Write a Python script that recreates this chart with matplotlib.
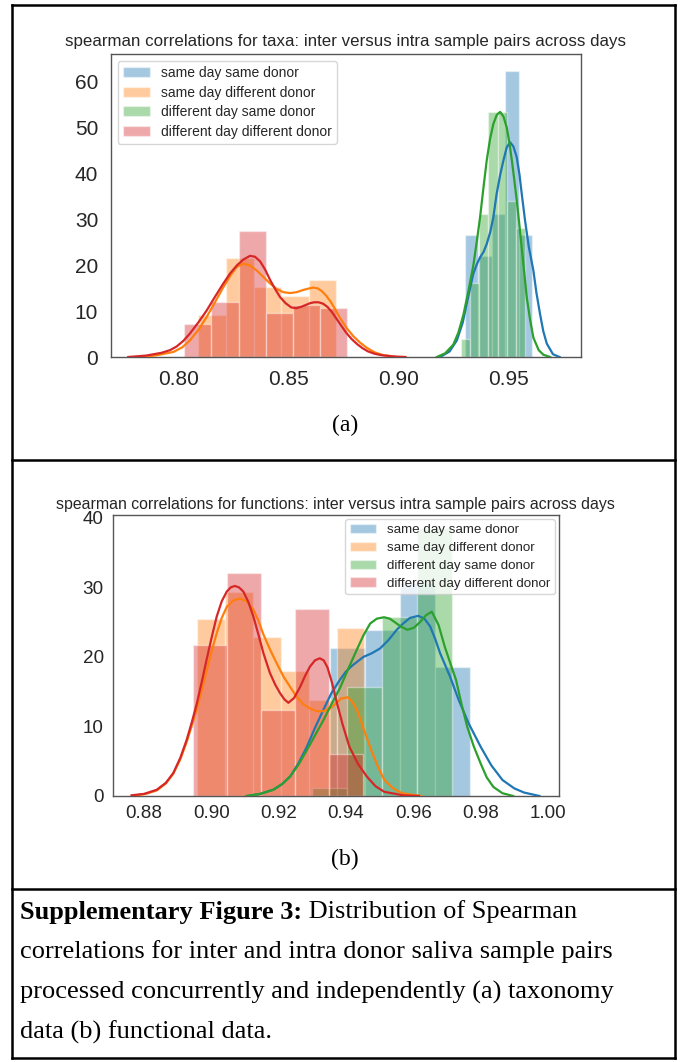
import numpy as np
import matplotlib
matplotlib.use("Agg")
import matplotlib.pyplot as plt
from matplotlib.lines import Line2D

# ---------------- data ----------------
series_labels = ["same day same donor", "same day different donor",
                 "different day same donor", "different day different donor"]

# Panel (a): taxa
a_title = "spearman correlations for taxa: inter versus intra sample pairs across days"
a_blue_edges = [0.9300, 0.9361, 0.9422, 0.9483, 0.9544, 0.9605]
a_blue_heights = [26.5, 22.0, 31.0, 62.3, 26.5]
a_orange_edges = [0.8089, 0.8214, 0.8339, 0.8464, 0.8589, 0.8714]
a_orange_heights = [9.2, 21.6, 15.3, 13.3, 16.7]
a_green_edges = [0.9280, 0.9322, 0.9364, 0.9406, 0.9448, 0.9490, 0.9532, 0.9574]
a_green_heights = [4.0, 16.0, 31.0, 53.3, 53.3, 34.0, 28.0]
a_red_edges = [0.8025, 0.8148, 0.8271, 0.8394, 0.8517, 0.8640, 0.8763]
a_red_heights = [7.2, 12.0, 27.4, 9.5, 11.3, 10.6]

a_blue_kde_x = [0.9187, 0.9230, 0.9263, 0.9290, 0.9308, 0.9338, 0.9355, 0.9369, 0.9385,
                0.9399, 0.9415, 0.9429, 0.9444, 0.9460, 0.9475, 0.9490, 0.9505, 0.9520,
                0.9535, 0.9548, 0.9558, 0.9573, 0.9590, 0.9611, 0.9625, 0.9641, 0.9656,
                0.9672, 0.9700, 0.9730]
a_blue_kde_y = [0.0, 1.2, 3.6, 7.5, 11.6, 18.1, 20.3, 21.7, 22.9,
                24.6, 27.2, 30.4, 35.5, 39.6, 42.8, 45.6, 46.7, 45.8,
                43.5, 39.6, 35.5, 29.7, 24.0, 18.8, 13.9, 9.4, 5.6,
                2.9, 0.6, 0.0]
a_orange_kde_x = [0.7810, 0.7890, 0.7975, 0.8015, 0.8050, 0.8090, 0.8126, 0.8165, 0.8202,
                  0.8235, 0.8263, 0.8293, 0.8323, 0.8354, 0.8384, 0.8414, 0.8444, 0.8475,
                  0.8505, 0.8535, 0.8566, 0.8590, 0.8611, 0.8632, 0.8650, 0.8670, 0.8690,
                  0.8711, 0.8732, 0.8762, 0.8793, 0.8824, 0.8854, 0.8890, 0.8929, 0.8990]
a_orange_kde_y = [0.0, 0.3, 1.1, 2.1, 3.6, 6.0, 8.7, 12.0, 15.2,
                  17.8, 19.6, 20.3, 19.9, 18.8, 17.4, 16.0, 14.8, 14.1,
                  13.9, 14.1, 14.6, 14.9, 15.1, 14.9, 14.3, 13.3, 12.0,
                  10.3, 8.5, 6.3, 4.5, 3.1, 2.0, 1.0, 0.4, 0.0]
a_green_kde_x = [0.9172, 0.9210, 0.9247, 0.9270, 0.9293, 0.9315, 0.9338, 0.9354, 0.9369,
                 0.9384, 0.9399, 0.9414, 0.9429, 0.9445, 0.9460, 0.9475, 0.9490, 0.9502,
                 0.9513, 0.9524, 0.9535, 0.9547, 0.9558, 0.9570, 0.9581, 0.9596, 0.9611,
                 0.9635, 0.9656, 0.9687]
a_green_kde_y = [0.0, 0.8, 2.7, 5.3, 9.2, 14.2, 19.9, 25.2, 30.5,
                 36.8, 42.8, 47.4, 50.7, 52.7, 53.3, 52.3, 49.9, 46.6,
                 42.8, 38.6, 34.2, 28.9, 23.7, 18.1, 12.9, 8.1, 4.2,
                 1.5, 0.5, 0.0]
a_red_kde_x = [0.7770, 0.7850, 0.7920, 0.7960, 0.7990, 0.8020, 0.8050, 0.8088, 0.8126,
               0.8164, 0.8202, 0.8233, 0.8263, 0.8293, 0.8323, 0.8346, 0.8369, 0.8392,
               0.8414, 0.8437, 0.8460, 0.8485, 0.8510, 0.8533, 0.8555, 0.8576, 0.8596,
               0.8615, 0.8635, 0.8655, 0.8675, 0.8695, 0.8715, 0.8738, 0.8760, 0.8785,
               0.8810, 0.8835, 0.8860, 0.8890, 0.8920, 0.8980, 0.9030]
a_red_kde_y = [0.0, 0.3, 0.9, 1.5, 2.3, 3.5, 5.1, 7.5, 10.1,
               13.1, 16.0, 18.2, 19.9, 21.2, 22.0, 21.8, 20.8, 19.0,
               16.8, 14.8, 13.0, 11.7, 10.8, 10.6, 10.9, 11.3, 11.7,
               11.9, 11.9, 11.6, 10.9, 9.8, 8.4, 6.8, 5.3, 3.9,
               2.8, 1.9, 1.2, 0.7, 0.4, 0.1, 0.0]
a_xticks = [0.80, 0.85, 0.90, 0.95]
a_xticklabels = ["0.80", "0.85", "0.90", "0.95"]
a_yticks = [0, 10, 20, 30, 40, 50, 60]

# Panel (b): functions
b_title = "spearman correlations for functions: inter versus intra sample pairs across days"
b_blue_edges = [0.9352, 0.9456, 0.9560, 0.9664, 0.9768]
b_blue_heights = [21.3, 23.9, 30.6, 18.6]
b_orange_edges = [0.8957, 0.9040, 0.9123, 0.9206, 0.9289, 0.9372, 0.9455]
b_orange_heights = [25.4, 29.3, 22.9, 18.0, 13.8, 24.2]
b_green_edges = [0.9298, 0.9402, 0.9506, 0.9610, 0.9714]
b_green_heights = [1.2, 15.7, 25.8, 38.5]
b_red_edges = [0.8945, 0.9046, 0.9147, 0.9250, 0.9351, 0.9452]
b_red_heights = [21.7, 32.0, 12.3, 26.9, 6.1]

b_blue_kde_x = [0.9105, 0.9145, 0.9184, 0.9210, 0.9234, 0.9259, 0.9284, 0.9308, 0.9333,
                0.9357, 0.9382, 0.9400, 0.9420, 0.9452, 0.9476, 0.9501, 0.9526, 0.9551,
                0.9570, 0.9590, 0.9615, 0.9633, 0.9650, 0.9665, 0.9680, 0.9695, 0.9709,
                0.9735, 0.9765, 0.9800, 0.9832, 0.9865, 0.9900, 0.9929, 0.9975]
b_blue_kde_y = [0.0, 0.3, 0.9, 1.7, 2.8, 4.7, 7.1, 9.8, 12.4,
                14.8, 16.7, 17.9, 18.8, 20.0, 20.5, 21.2, 22.4, 23.9,
                24.8, 25.6, 25.9, 25.5, 24.4, 22.6, 20.5, 18.8, 17.2,
                13.8, 10.4, 7.1, 4.4, 2.3, 1.1, 0.5, 0.0]
b_orange_kde_x = [0.8775, 0.8805, 0.8838, 0.8865, 0.8887, 0.8908, 0.8927, 0.8942, 0.8957,
                  0.8972, 0.8986, 0.9001, 0.9016, 0.9031, 0.9046, 0.9065, 0.9085, 0.9105,
                  0.9125, 0.9140, 0.9155, 0.9175, 0.9194, 0.9214, 0.9234, 0.9253, 0.9273,
                  0.9293, 0.9313, 0.9333, 0.9353, 0.9370, 0.9385, 0.9405, 0.9420, 0.9436,
                  0.9455, 0.9475, 0.9495, 0.9514, 0.9540, 0.9566, 0.9624]
b_orange_kde_y = [0.1, 0.3, 0.8, 1.8, 3.2, 5.3, 7.8, 10.1, 12.5,
                  15.3, 18.0, 20.8, 23.4, 25.6, 27.2, 28.1, 28.4, 28.0,
                  26.8, 25.2, 23.2, 21.0, 19.1, 17.2, 15.7, 14.3, 13.2,
                  12.6, 12.2, 12.2, 12.6, 13.3, 14.0, 14.2, 13.5, 12.0,
                  9.3, 6.6, 4.2, 2.3, 1.1, 0.4, 0.0]
b_green_kde_x = [0.9105, 0.9145, 0.9184, 0.9210, 0.9234, 0.9259, 0.9284, 0.9308, 0.9333,
                 0.9357, 0.9382, 0.9407, 0.9432, 0.9452, 0.9472, 0.9492, 0.9513, 0.9530,
                 0.9545, 0.9565, 0.9583, 0.9602, 0.9620, 0.9638, 0.9655, 0.9675, 0.9694,
                 0.9710, 0.9727, 0.9743, 0.9760, 0.9780, 0.9800, 0.9818, 0.9838, 0.9865,
                 0.9897]
b_green_kde_y = [0.0, 0.3, 0.9, 1.7, 2.8, 4.5, 6.6, 8.7, 10.9,
                 13.2, 15.5, 18.3, 21.0, 23.1, 24.8, 25.5, 25.7, 25.5,
                 25.0, 24.3, 23.9, 24.2, 25.0, 26.0, 26.5, 24.6, 21.4,
                 19.1, 16.7, 13.3, 10.0, 7.1, 4.7, 2.7, 1.3, 0.4,
                 0.0]
b_red_kde_x = [0.8763, 0.8800, 0.8838, 0.8865, 0.8887, 0.8908, 0.8927, 0.8942, 0.8957,
               0.8972, 0.8986, 0.9001, 0.9016, 0.9031, 0.9046, 0.9058, 0.9070, 0.9082,
               0.9095, 0.9110, 0.9125, 0.9140, 0.9155, 0.9174, 0.9190, 0.9204, 0.9217,
               0.9229, 0.9246, 0.9264, 0.9278, 0.9293, 0.9308, 0.9322, 0.9334, 0.9345,
               0.9358, 0.9371, 0.9390, 0.9410, 0.9436, 0.9462, 0.9488, 0.9514, 0.9570,
               0.9617]
b_red_kde_y = [0.1, 0.3, 0.9, 1.9, 3.3, 5.5, 8.1, 10.6, 13.3,
               16.5, 19.6, 22.8, 25.8, 28.0, 29.4, 30.0, 30.2, 30.0,
               29.4, 27.9, 25.8, 23.2, 20.5, 17.7, 16.0, 14.8, 13.9,
               13.4, 14.1, 15.7, 17.2, 18.6, 19.5, 19.8, 19.5, 18.5,
               16.4, 13.8, 10.3, 7.1, 4.6, 2.8, 1.4, 0.6, 0.1,
               0.0]
b_xticks = [0.88, 0.90, 0.92, 0.94, 0.96, 0.98, 1.00]
b_xticklabels = ["0.88", "0.90", "0.92", "0.94", "0.96", "0.98", "1.00"]
b_yticks = [0, 10, 20, 30, 40]

caption_bold = "Supplementary Figure 3:"
caption_lines = [" Distribution of Spearman",
                 "correlations for inter and intra donor saliva sample pairs",
                 "processed concurrently and independently (a) taxonomy",
                 "data (b) functional data."]

# ---------------- layout ----------------
W, H, DPI = 682, 1062, 100
colors = ["#1f77b4", "#ff7f0e", "#2ca02c", "#d62728"]
TXT = "#262626"
SANS = ["Liberation Sans", "DejaVu Sans"]
SERIF = ["Liberation Serif", "DejaVu Serif"]

fig = plt.figure(figsize=(W / DPI, H / DPI), dpi=DPI)
fig.patch.set_facecolor("white")


def ax_rect(l, t, r, b):
    return [l / W, 1 - b / H, (r - l) / W, (b - t) / H]


def draw_panel(ax, hists, kdes, title, xticks, xticklabels, yticks, xlim, ylim,
               tick_fs, xpad, ypad, title_fs, title_pad, leg_loc, leg_fs, leg_ls, leg_bap):
    for (edges, heights), (kx, ky), c, lab in zip(hists, kdes, colors, series_labels):
        e = np.asarray(edges)
        ax.bar(e[:-1], heights, width=np.diff(e), align="edge", color=c, alpha=0.4,
               edgecolor="white", linewidth=1.0, label=lab, zorder=2)
        ax.plot(kx, ky, color=c, lw=1.6, zorder=3, solid_joinstyle="round")
    ax.set_xlim(*xlim)
    ax.set_ylim(*ylim)
    ax.set_xticks(xticks)
    ax.set_xticklabels(xticklabels)
    ax.set_yticks(yticks)
    ax.tick_params(length=0, labelsize=tick_fs, colors=TXT)
    ax.tick_params(axis="x", pad=xpad)
    ax.tick_params(axis="y", pad=ypad)
    for lab in ax.get_xticklabels() + ax.get_yticklabels():
        lab.set_family(SANS)
    for s in ax.spines.values():
        s.set_color("#555555")
        s.set_linewidth(1.0)
    ax.set_title(title, fontsize=title_fs, color=TXT, pad=title_pad, family=SANS)
    leg = ax.legend(loc=leg_loc, prop={"family": SANS, "size": leg_fs}, frameon=True,
                    framealpha=0.8, edgecolor="0.8", labelspacing=leg_ls,
                    borderpad=0.35, handlelength=2.0, handletextpad=0.8,
                    borderaxespad=leg_bap)
    for t in leg.get_texts():
        t.set_color(TXT)


axa = fig.add_axes(ax_rect(110.7, 54, 580.7, 357))
draw_panel(axa,
           [(a_blue_edges, a_blue_heights), (a_orange_edges, a_orange_heights),
            (a_green_edges, a_green_heights), (a_red_edges, a_red_heights)],
           [(a_blue_kde_x, a_blue_kde_y), (a_orange_kde_x, a_orange_kde_y),
            (a_green_kde_x, a_green_kde_y), (a_red_kde_x, a_red_kde_y)],
           a_title, a_xticks, a_xticklabels, a_yticks,
           (0.769, 0.9826), (0, 65.9), 15, 9, 9, 12.2, 5.5, "upper left", 10, 0.41, 0.5)

axb = fig.add_axes(ax_rect(112.7, 515, 559, 796))
draw_panel(axb,
           [(b_blue_edges, b_blue_heights), (b_orange_edges, b_orange_heights),
            (b_green_edges, b_green_heights), (b_red_edges, b_red_heights)],
           [(b_blue_kde_x, b_blue_kde_y), (b_orange_kde_x, b_orange_kde_y),
            (b_green_kde_x, b_green_kde_y), (b_red_kde_x, b_red_kde_y)],
           b_title, b_xticks, b_xticklabels, b_yticks,
           (0.8707, 1.0033), (0, 40.4), 13.6, 6.5, 6.5, 11.4, 4.0, "upper right", 9.6,
           0.42, 0.3)

# panel labels
fig.text(345 / W, 1 - 425 / H, "(a)", ha="center", va="center", fontsize=17,
         family=SERIF, color="black")
fig.text(345 / W, 1 - 859 / H, "(b)", ha="center", va="center", fontsize=17,
         family=SERIF, color="black")


# borders
def hline(y, x0=12, x1=675):
    fig.add_artist(Line2D([x0 / W, x1 / W], [1 - y / H, 1 - y / H], color="black",
                          lw=1.8, transform=fig.transFigure, solid_capstyle="projecting"))


def vline(x, y0=5, y1=1058):
    fig.add_artist(Line2D([x / W, x / W], [1 - y0 / H, 1 - y1 / H], color="black",
                          lw=1.8, transform=fig.transFigure, solid_capstyle="projecting"))


hline(5)
hline(460)
hline(889)
hline(1058)
vline(12)
vline(675)

# caption
cap_fs = 19
cap_y = [912, 952, 992, 1032]
renderer = fig.canvas.get_renderer()
tb = fig.text(20 / W, 1 - cap_y[0] / H, caption_bold, fontsize=cap_fs, weight="bold",
              family=SERIF, va="center", ha="left", color="black")
bb = tb.get_window_extent(renderer)
fig.text(bb.x1 / fig.bbox.width, 1 - cap_y[0] / H, caption_lines[0], fontsize=cap_fs,
         family=SERIF, va="center", ha="left", color="black")
for line, y in zip(caption_lines[1:], cap_y[1:]):
    fig.text(20 / W, 1 - y / H, line, fontsize=cap_fs, family=SERIF, va="center",
             ha="left", color="black")

fig.savefig("out.png", dpi=DPI, facecolor="white")
